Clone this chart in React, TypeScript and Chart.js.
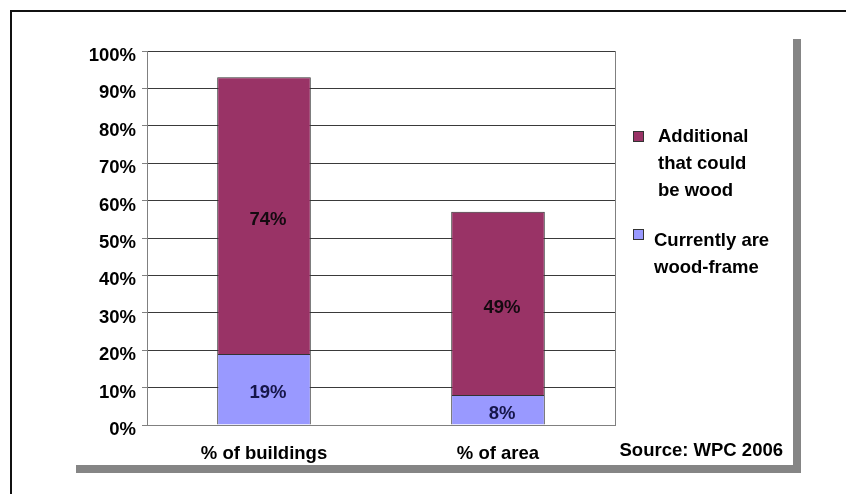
import { useEffect, useRef } from "react";
import { Chart, registerables } from "chart.js";

Chart.register(...registerables);

// Building stock data (percent)
const categories = ["% of buildings", "% of area"];
const currentlyWoodFrame = [19, 8];
const additionalCouldBeWood = [74, 49];

const seriesNames = ["Currently are wood-frame", "Additional that could be wood"];
const legendAdditional = ["Additional", "that could", "be wood"];
const legendCurrent = ["Currently are", "wood-frame"];
const sourceNote = "Source: WPC 2006";

const yMin = 0;
const yMax = 100;
const yStep = 10;

const MAROON = "#993366";
const LAVENDER = "#9999FF";
const FONT_FAMILY = "'Liberation Sans', Arial, sans-serif";
const FONT = `bold 18.5px ${FONT_FAMILY}`;

const framePlugin = {
  id: "frameAndNotes",
  beforeDraw(chart: any) {
    const ctx = chart.ctx;
    ctx.save();
    ctx.fillStyle = "#ffffff";
    ctx.fillRect(0, 0, chart.width, chart.height);
    // outer frame
    ctx.fillStyle = "#111111";
    ctx.fillRect(10, 10, chart.width - 10, 2);
    ctx.fillRect(10, 10, 2, chart.height - 10);
    // panel drop shadow
    ctx.fillStyle = "#858585";
    ctx.fillRect(793, 39, 8, 434);
    ctx.fillRect(76, 465, 725, 8);
    ctx.restore();
  },
  afterDatasetsDraw(chart: any) {
    const ctx = chart.ctx;
    ctx.save();
    ctx.font = FONT;
    ctx.textAlign = "center";
    ctx.textBaseline = "middle";
    chart.data.datasets.forEach((ds: any, i: number) => {
      const meta = chart.getDatasetMeta(i);
      meta.data.forEach((bar: any, j: number) => {
        const v = ds.data[j];
        ctx.fillStyle = i === 0 ? "#16164a" : "#140a10";
        ctx.fillText(`${v}%`, bar.x + 4, (bar.y + bar.base) / 2 + 4);
      });
    });
    ctx.restore();
  },
  afterDraw(chart: any) {
    const ctx = chart.ctx;
    const area = chart.chartArea;
    ctx.save();
    // plot area right edge
    ctx.strokeStyle = "#808080";
    ctx.lineWidth = 1;
    ctx.beginPath();
    ctx.moveTo(Math.round(area.right) + 0.5, area.top);
    ctx.lineTo(Math.round(area.right) + 0.5, area.bottom);
    ctx.stroke();

    // legend
    ctx.font = FONT;
    ctx.textAlign = "left";
    ctx.textBaseline = "alphabetic";
    const drawEntry = (color: string, sx: number, sy: number, tx: number, lines: string[], base: number) => {
      ctx.fillStyle = color;
      ctx.fillRect(sx, sy, 11, 11);
      ctx.strokeStyle = "#333333";
      ctx.strokeRect(sx + 0.5, sy + 0.5, 10, 10);
      ctx.fillStyle = "#000000";
      lines.forEach((t, k) => ctx.fillText(t, tx, base + k * 27));
    };
    drawEntry(MAROON, 633, 131, 658, legendAdditional, 141.5);
    drawEntry(LAVENDER, 633, 229, 654, legendCurrent, 246);

    // source note
    ctx.textAlign = "right";
    ctx.fillText(sourceNote, 783, 455.5);
    ctx.restore();
  },
};

export default function App() {
  const canvasRef = useRef<HTMLCanvasElement | null>(null);

  useEffect(() => {
    const canvas = canvasRef.current;
    if (!canvas) return;
    const chart = new Chart(canvas, {
      type: "bar",
      data: {
        labels: categories,
        datasets: [
          {
            label: seriesNames[0],
            data: currentlyWoodFrame,
            backgroundColor: LAVENDER,
            borderColor: "#333333",
            borderWidth: 1,
            categoryPercentage: 1,
            barPercentage: 0.4,
          },
          {
            label: seriesNames[1],
            data: additionalCouldBeWood,
            backgroundColor: MAROON,
            borderColor: "#333333",
            borderWidth: 1,
            categoryPercentage: 1,
            barPercentage: 0.4,
          },
        ],
      },
      options: {
        responsive: false,
        animation: false,
        devicePixelRatio: 1,
        layout: { padding: { left: 0, top: 51, right: 231, bottom: 29 } },
        plugins: {
          legend: { display: false },
          tooltip: { enabled: false },
          title: { display: false },
        },
        scales: {
          x: {
            stacked: true,
            grid: { display: false },
            border: { display: true, color: "#808080", width: 1 },
            ticks: {
              color: "#000000",
              font: { family: FONT_FAMILY, size: 18.5, weight: "bold" },
              padding: 10,
            },
            afterFit: (s: any) => {
              s.height = 40;
            },
          },
          y: {
            stacked: true,
            min: yMin,
            max: yMax,
            grid: {
              color: (c: any) => (c.tick && c.tick.value === 0 ? "#808080" : "#3a3a3a"),
              tickColor: "#808080",
              tickLength: 5,
              lineWidth: 1,
            },
            border: { display: true, color: "#808080", width: 1 },
            ticks: {
              stepSize: yStep,
              color: "#000000",
              font: { family: FONT_FAMILY, size: 18.5, weight: "bold" },
              padding: 6,
              labelOffset: 5,
              callback: (v: any) => `${v}%`,
            },
            afterFit: (s: any) => {
              s.width = 147;
            },
          },
        },
      },
      plugins: [framePlugin],
    });
    return () => chart.destroy();
  }, []);

  return (
    <div style={{ position: "absolute", left: 0, top: 0, width: 846, height: 494, background: "#fff" }}>
      <canvas ref={canvasRef} width={846} height={494} style={{ display: "block" }} />
    </div>
  );
}
